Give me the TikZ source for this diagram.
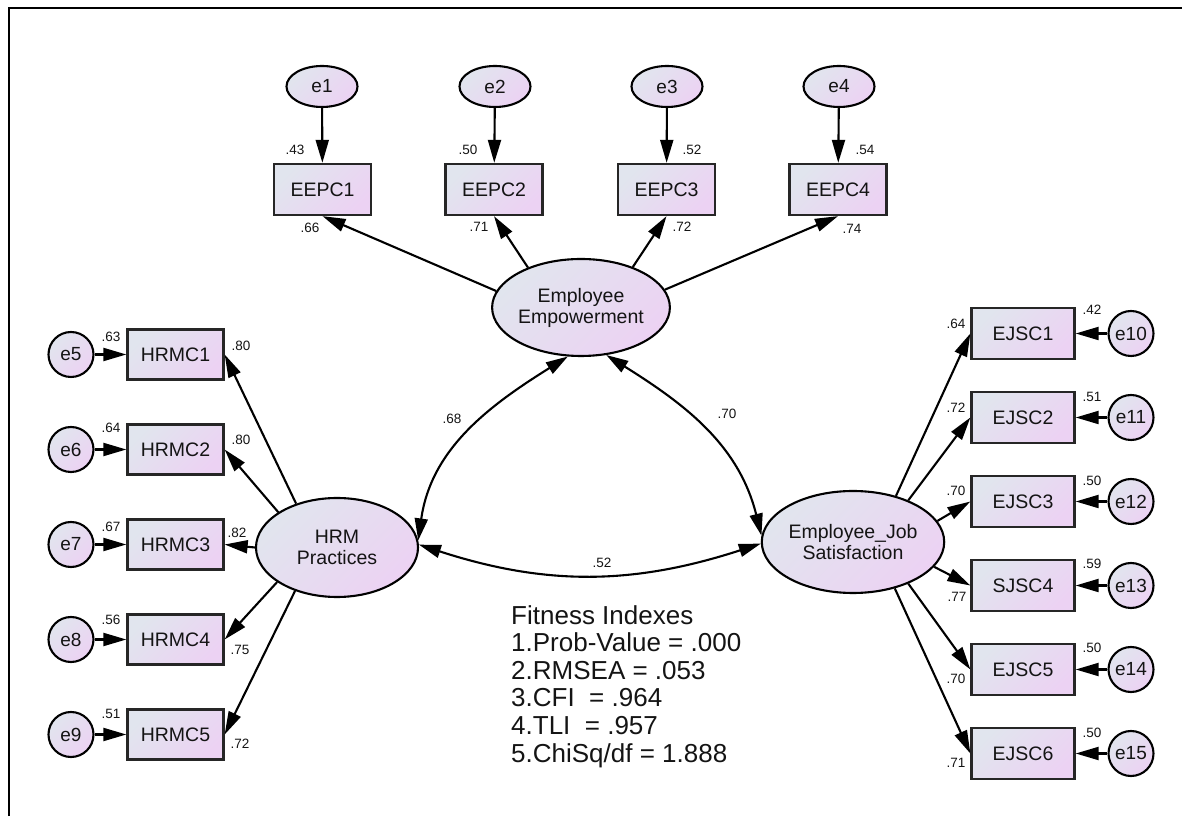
\documentclass[tikz,border=0pt]{standalone}
\usepackage{fontspec}
\setmainfont{Liberation Sans}
\usetikzlibrary{shapes.geometric,arrows.meta}
\definecolor{fillA}{HTML}{E1E5EE}
\definecolor{fillB}{HTML}{ECD2F3}
\definecolor{ink}{HTML}{141414}
\begin{document}
\begin{tikzpicture}[x=1pt,y=1pt,
  shade/.style={top color=fillA, bottom color=fillB, shading angle=45},
  obs/.style={shade, rectangle, draw=black!85, line width=2.3pt, inner sep=0pt,
    minimum width=96pt, minimum height=50pt, text=ink, font=\fontsize{19.5}{21}\selectfont},
  lat/.style={shade, ellipse, draw=black, line width=2.1pt, inner sep=0pt, align=center,
    minimum width=163pt, minimum height=97pt, text=ink, font=\fontsize{19.5}{21}\selectfont},
  errtop/.style={shade, ellipse, draw=black, line width=2.1pt, inner sep=0pt,
    minimum width=71pt, minimum height=41pt, text=ink, font=\fontsize{19}{21}\selectfont},
  errc/.style={shade, circle, draw=black, line width=2.1pt, inner sep=0pt,
    minimum size=45pt, text=ink, font=\fontsize{19}{21}\selectfont},
  val/.style={inner sep=0pt, text=ink, font=\fontsize{13.5}{15}\selectfont},
  arr/.style={line width=2.1pt, draw=black, -{Triangle[length=23pt,width=13pt]}},
  cov/.style={line width=2.1pt, draw=black, {Triangle[length=22pt,width=13pt]}-{Triangle[length=22pt,width=13pt]}},
  frame/.style={line width=2.4pt, draw=black}
]
\useasboundingbox (0,0) rectangle (1182,816);
\draw[frame] (9,0) -- (9,808) -- (1182,808);

% top error terms and indicators
\node[errtop] (e1) at (322,729.5) {e1};
\node[errtop] (e2) at (495,729.5) {e2};
\node[errtop] (e3) at (667,729.5) {e3};
\node[errtop] (e4) at (839,729.5) {e4};
\node[obs, minimum width=97pt, minimum height=51pt] (eepc1) at (322.5,626.5) {EEPC1};
\node[obs, minimum width=97pt, minimum height=51pt] (eepc2) at (494,626.5) {EEPC2};
\node[obs, minimum width=97pt, minimum height=51pt] (eepc3) at (666.5,626.5) {EEPC3};
\node[obs, minimum width=97pt, minimum height=51pt] (eepc4) at (838,626.5) {EEPC4};

% latent variables
\node[lat] (ee) at (581,508.5) {Employee\\Empowerment};
\node[lat, minimum width=162pt, minimum height=99pt] (hrm) at (337,268.5) {HRM\\Practices};
\node[lat, minimum width=161pt, minimum height=102pt] (ejs) at (853,274) {Employee\_Job\\Satisfaction};

% left indicators
\node[obs] (hrmc1) at (175.5,461.5) {HRMC1};
\node[obs] (hrmc2) at (175.5,366.5) {HRMC2};
\node[obs] (hrmc3) at (175.5,271.5) {HRMC3};
\node[obs] (hrmc4) at (175.5,176.5) {HRMC4};
\node[obs] (hrmc5) at (175.5,81.5) {HRMC5};
\node[errc] (e5) at (71,461.5) {e5};
\node[errc] (e6) at (71,366.5) {e6};
\node[errc] (e7) at (71,271.5) {e7};
\node[errc] (e8) at (71,176.5) {e8};
\node[errc] (e9) at (71,81.5) {e9};

% right indicators
\node[obs, minimum width=103pt, minimum height=51pt] (ejsc1) at (1023,482.5) {EJSC1};
\node[obs, minimum width=103pt, minimum height=51pt] (ejsc2) at (1023,398.5) {EJSC2};
\node[obs, minimum width=103pt, minimum height=51pt] (ejsc3) at (1023,314.5) {EJSC3};
\node[obs, minimum width=103pt, minimum height=51pt] (ejsc4) at (1023,230.5) {SJSC4};
\node[obs, minimum width=103pt, minimum height=51pt] (ejsc5) at (1023,146.5) {EJSC5};
\node[obs, minimum width=103pt, minimum height=51pt] (ejsc6) at (1023,62.5) {EJSC6};
\node[errc] (e10) at (1131,482.5) {e10};
\node[errc] (e11) at (1131,398.5) {e11};
\node[errc] (e12) at (1131,314.5) {e12};
\node[errc] (e13) at (1131,230.5) {e13};
\node[errc] (e14) at (1131,146.5) {e14};
\node[errc] (e15) at (1131,62.5) {e15};

% arrows: errors -> indicators
\draw[arr] (e1) -- (eepc1);
\draw[arr] (e2) -- (eepc2);
\draw[arr] (e3) -- (eepc3);
\draw[arr] (e4) -- (eepc4);
\draw[arr] (e5) -- (hrmc1);
\draw[arr] (e6) -- (hrmc2);
\draw[arr] (e7) -- (hrmc3);
\draw[arr] (e8) -- (hrmc4);
\draw[arr] (e9) -- (hrmc5);
\draw[arr] (e10) -- (ejsc1);
\draw[arr] (e11) -- (ejsc2);
\draw[arr] (e12) -- (ejsc3);
\draw[arr] (e13) -- (ejsc4);
\draw[arr] (e14) -- (ejsc5);
\draw[arr] (e15) -- (ejsc6);

% loadings
\draw[arr] (ee.169) -- (eepc1.south);
\draw[arr] (ee.143) -- (eepc2.south);
\draw[arr] (ee.38) -- (eepc3.south);
\draw[arr] (ee.12.5) -- (eepc4.south);
\draw[arr] (hrm.133) -- (hrmc1.east);
\draw[arr] (hrm.149) -- (hrmc2.east);
\draw[arr] (hrm.180) -- (hrmc3.east);
\draw[arr] (hrm.210) -- (hrmc4.east);
\draw[arr] (hrm.226) -- (hrmc5.east);
\draw[arr] (ejs.47) -- (ejsc1.west);
\draw[arr] (ejs.37.5) -- (ejsc2.west);
\draw[arr] (ejs.14) -- (ejsc3.west);
\draw[arr] (ejs.343.4) -- (ejsc4.west);
\draw[arr] (ejs.323.3) -- (ejsc5.west);
\draw[arr] (ejs.312.4) -- (ejsc6.west);

% covariances
\draw[cov] (ee.255) to[out=212,in=82] (hrm.5);
\draw[cov] (ee.298) to[out=328,in=104] (ejs.176);
\draw[cov] (hrm.2) to[out=-18,in=198] (ejs.181);

% values
\node[val] (v1) at (295,666) {.43};
\node[val] (v2) at (468,666) {.50};
\node[val] (v3) at (692,666) {.52};
\node[val] (v4) at (865,666) {.54};
\node[val] (v5) at (310,588) {.66};
\node[val] (v6) at (479,589) {.71};
\node[val] (v7) at (682,589) {.72};
\node[val] (v8) at (852,587) {.74};
\node[val] (v9) at (111,479) {.63};
\node[val] (v10) at (111,388) {.64};
\node[val] (v11) at (111,289) {.67};
\node[val] (v12) at (111,196) {.56};
\node[val] (v13) at (111,102) {.51};
\node[val] (v14) at (241,470) {.80};
\node[val] (v15) at (241,376) {.80};
\node[val] (v16) at (237,283) {.82};
\node[val] (v17) at (240,166) {.75};
\node[val] (v18) at (240,72) {.72};
\node[val] (v19) at (1092,506) {.42};
\node[val] (v20) at (1092,419) {.51};
\node[val] (v21) at (1092,335) {.50};
\node[val] (v22) at (1092,252) {.59};
\node[val] (v23) at (1092,168) {.50};
\node[val] (v24) at (1092,83) {.50};
\node[val] (v25) at (956,492) {.64};
\node[val] (v26) at (956,408) {.72};
\node[val] (v27) at (956,325) {.70};
\node[val] (v28) at (957,219) {.77};
\node[val] (v29) at (956,137) {.70};
\node[val] (v30) at (956,53) {.71};
\node[val] (v31) at (452,397) {.68};
\node[val] (v32) at (727,402) {.70};
\node[val] (v33) at (602,253) {.52};

% fitness indexes
\node[inner sep=0pt, anchor=north west, align=left, text=ink,
  font=\fontsize{26}{27.6}\selectfont] (fit) at (511,211)
  {Fitness Indexes\\1.Prob-Value = .000\\2.RMSEA = .053\\3.CFI\ \ = .964\\4.TLI\ \ = .957\\5.ChiSq/df = 1.888};
\end{tikzpicture}
\end{document}
